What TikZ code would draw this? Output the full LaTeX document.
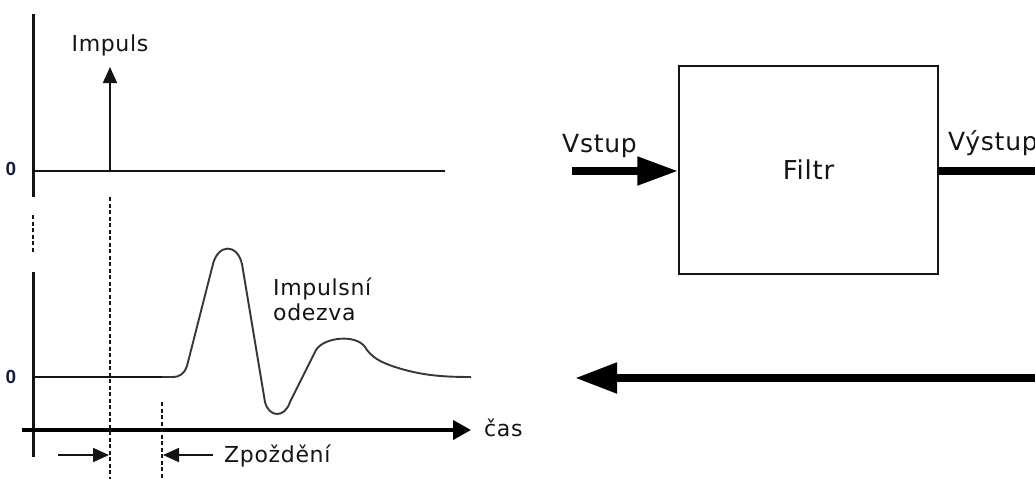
\documentclass[tikz,border=0pt]{standalone}
\usepackage{fontspec}
\setmainfont{DejaVu Sans}
\newfontfamily\lblfont[LetterSpace=3]{DejaVu Sans}
\newfontfamily\zerofont{Liberation Sans}
\usetikzlibrary{arrows.meta}
\definecolor{zeroblue}{RGB}{22,30,60}
\definecolor{ink}{RGB}{20,20,20}
\begin{document}
\begin{tikzpicture}[x=1pt,y=-1pt,
  axisline/.style={line width=3pt,ink},
  baseline/.style={line width=1.7pt,ink},
  guide/.style={line width=1.3pt,ink,dash pattern=on 4pt off 2.5pt},
  lbl/.style={font=\lblfont\fontsize{22}{25}\selectfont,inner sep=0pt,text=ink},
  blocklbl/.style={font=\lblfont\fontsize{25}{28}\selectfont,inner sep=0pt,text=ink},
  zerolbl/.style={font=\zerofont\bfseries\fontsize{19}{20}\selectfont,inner sep=0pt,text=zeroblue},
  thinarrow/.style={line width=1.7pt,ink,-{Triangle[length=16pt,width=14pt]}},
  bigarrow/.style={line width=8pt,black,-{Triangle[length=41pt,width=27pt]}},
  filterbox/.style={draw=ink,line width=1.5pt,minimum width=259pt,minimum height=208pt,inner sep=0pt}
]
\useasboundingbox (0,0) rectangle (1035,479);
\clip (0,0) rectangle (1035,479);

% ---- upper plot: the impulse ----
\coordinate (ya1) at (33,14);
\coordinate (yb1) at (33,197);
\coordinate (o1) at (33,171);
\coordinate (x1end) at (445,171);
\coordinate (imp0) at (110,171);
\coordinate (imptop) at (110,67);
\draw[axisline] (ya1) -- (yb1);
\draw[baseline] (o1) -- (x1end);
\draw[thinarrow] (imp0) -- (imptop);
\node[lbl,anchor=base] (implbl) at (110,51) {Impuls};
\node[zerolbl] (zero1) at (11,169) {0};

% ---- lower plot: the impulse response ----
\coordinate (ya2) at (33,272);
\coordinate (yb2) at (33,457);
\coordinate (o2) at (33,377);
\coordinate (d0) at (162,377);
\coordinate (tax0) at (22,430);
\coordinate (tax1) at (471,430);
\draw[axisline] (ya2) -- (yb2);
\draw[baseline] (o2) -- (d0);
\draw[line width=4pt,black,-{Triangle[length=18pt,width=19pt]}] (tax0) -- (tax1);
\node[lbl,anchor=base west] (caslbl) at (484,436) {čas};
\node[zerolbl] (zero2) at (11,377) {0};

% response curve
\draw[line width=1.9pt,ink!85,line join=round]
  (d0) -- (172,377)
  .. controls (180,377) and (184,374) .. (187,366)
  -- (213,264)
  .. controls (218,244) and (237,243) .. (242,264)
  -- (265,402)
  .. controls (269,418) and (285,418) .. (290,402)
  -- (316,350)
  .. controls (324,337) and (356,334) .. (365,347)
  .. controls (371,357) and (380,362) .. (395,367)
  .. controls (420,375) and (440,377) .. (471,377);
\node[lbl,anchor=base west] (resp1) at (273,295) {Impulsní};
\node[lbl,anchor=base west] (resp2) at (273,320) {odezva};

% ---- dashed guides and the delay ----
\coordinate (g0a) at (33,215);
\coordinate (g0b) at (33,253);
\coordinate (g1a) at (110,197);
\coordinate (g1b) at (110,479);
\coordinate (g2a) at (162,402);
\coordinate (g2b) at (162,479);
\draw[guide] (g0a) -- (g0b);
\draw[guide] (g1a) -- (g1b);
\draw[guide] (g2a) -- (g2b);
\coordinate (dl0) at (58,455);
\coordinate (dl1) at (109,455);
\coordinate (dr0) at (213,455);
\coordinate (dr1) at (163,455);
\draw[thinarrow] (dl0) -- (dl1);
\draw[thinarrow] (dr0) -- (dr1);
\node[lbl,anchor=base west] (delaylbl) at (224,462) {Zpoždění};

% ---- block diagram ----
\node[filterbox] (filtr) at (808.5,170) {};
\node[font=\lblfont\fontsize{26}{29}\selectfont,text=ink] at (filtr.center) {Filtr};
\coordinate (in0) at (572,171);
\coordinate (out1) at (1050,171);
\draw[bigarrow] (in0) -- (filtr.west |- in0);
\draw[line width=8pt,black] (filtr.east |- out1) -- (out1);
\node[blocklbl,anchor=base west] (inlbl) at (562,152) {Vstup};
\node[blocklbl,anchor=base west] (outlbl) at (948,150) {Výstup};

\coordinate (back0) at (1050,378);
\coordinate (back1) at (575,378);
\draw[line width=8pt,black,-{Triangle[length=42pt,width=29pt]}] (back0) -- (back1);
\end{tikzpicture}
\end{document}
